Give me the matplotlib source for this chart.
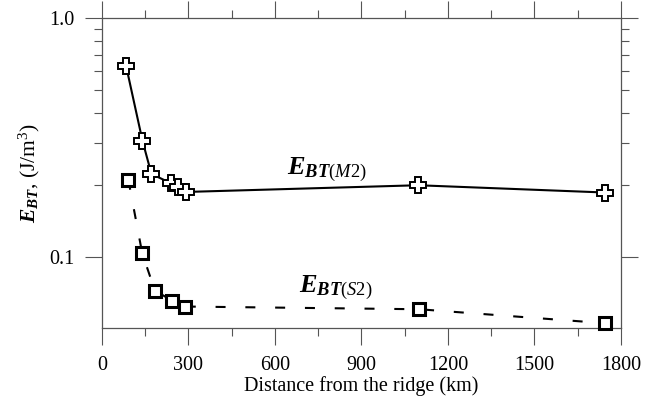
import numpy as np
import matplotlib.pyplot as plt
from matplotlib.ticker import FixedLocator, NullFormatter

# distance from ridge (km) and baroclinic energy (J/m^3)
dist_m2 = [84, 141, 172, 239, 265, 291, 1097, 1745]
ebt_m2 = [0.631, 0.306, 0.2225, 0.2035, 0.197, 0.187, 0.1995, 0.186]

dist_s2 = [92, 140, 184, 245, 288, 1101, 1744]
ebt_s2 = [0.210, 0.1036, 0.0723, 0.0655, 0.0620, 0.0604, 0.0528]

xticks = [0, 300, 600, 900, 1200, 1500, 1800]
yticks = [0.1, 1.0]
ytick_labels = ["0.1", "1.0"]

plt.rcParams["font.family"] = ["Liberation Serif", "DejaVu Serif"]
plt.rcParams["mathtext.fontset"] = "custom"
plt.rcParams["mathtext.rm"] = "Liberation Serif"
plt.rcParams["mathtext.it"] = "Liberation Serif:italic"
plt.rcParams["mathtext.bf"] = "Liberation Serif:bold:italic"

fig = plt.figure(figsize=(6.57, 4.08), dpi=100)
ax = fig.add_axes([0.155, 0.196, 0.79, 0.76])

ax.plot(dist_m2, ebt_m2, color="black", lw=1.5, marker="P", markersize=12,
        markerfacecolor="white", markeredgecolor="black", markeredgewidth=1.4,
        clip_on=False, zorder=3)
ax.plot(dist_s2, ebt_s2, color="black", lw=1.5, dashes=(4.8, 9.5), marker="s",
        markersize=8, markerfacecolor="white", markeredgecolor="black",
        markeredgewidth=2.2, clip_on=False, zorder=3)

ax.set_yscale("log")
ax.set_xlim(0, 1800)
ax.set_ylim(0.0504, 1.0)

ax.xaxis.set_major_locator(FixedLocator(xticks))
ax.xaxis.set_minor_locator(FixedLocator(np.arange(150, 1800, 300)))
ax.yaxis.set_major_locator(FixedLocator(yticks))
ax.set_yticklabels(ytick_labels)
ax.yaxis.set_minor_locator(FixedLocator([0.2, 0.3, 0.4, 0.5, 0.6, 0.7, 0.8, 0.9]))
ax.yaxis.set_minor_formatter(NullFormatter())

ax.tick_params(which="both", direction="out", top=True, right=True,
               color="#555555", labelsize=14.5, pad=8)
ax.tick_params(which="major", length=12, width=0.8)
ax.tick_params(which="minor", length=6, width=0.8)
for s in ax.spines.values():
    s.set_color("#555555")
    s.set_linewidth(0.9)

ax.set_xlabel("Distance from the ridge (km)", fontsize=14.5, labelpad=1)
ax.set_ylabel(r"$\mathbf{E}_{\mathbf{BT}}$, (J/m$^3$)", fontsize=15.5, labelpad=5)

ax.text(780, 0.201, r"$\mathbf{E}_{\mathbf{BT}(M2)}$", fontsize=19, ha="center", va="bottom")
ax.text(812, 0.0648, r"$\mathbf{E}_{\mathbf{BT}(S2)}$", fontsize=19, ha="center", va="bottom")

fig.savefig("out.png", dpi=100)
